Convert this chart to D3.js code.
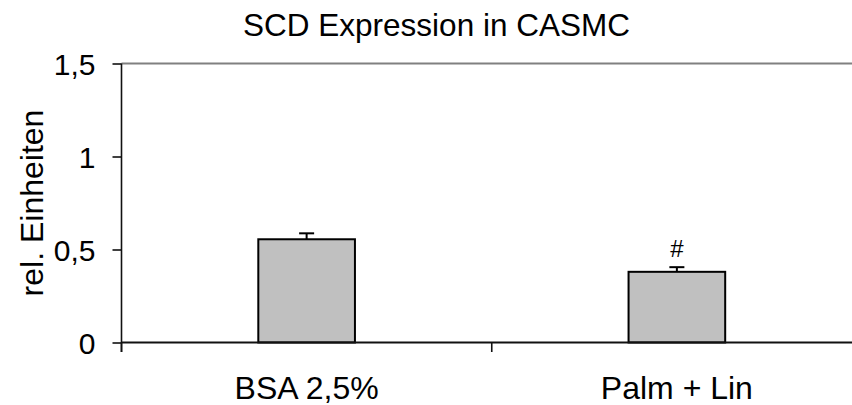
<!DOCTYPE html>
<html>
<head>
<meta charset="utf-8">
<script src="https://cdn.jsdelivr.net/npm/d3@7"></script>
<style>
  html, body { margin: 0; padding: 0; background: #fff; }
  svg { display: block; }
  text { font-family: "Liberation Sans", Arial, sans-serif; fill: #000; }
</style>
</head>
<body>
<svg id="chart" width="852" height="405"></svg>
<script>
// Data
const categories = ["BSA 2,5%", "Palm + Lin"];
const values = [0.555, 0.38];
const errors = [0.032, 0.025];
const markers = ["", "#"];
const yTicks = [0, 0.5, 1, 1.5];
const yTickLabels = ["0", "0,5", "1", "1,5"];
const chartTitle = "SCD Expression in CASMC";
const yTitle = "rel. Einheiten";

const svg = d3.select("#chart");

// Plot area (right edge runs past the visible canvas)
const plotLeft = 121.5, plotRight = 862, plotTop = 63.5, plotBottom = 342.5;

const x = d3.scaleBand().domain(categories).range([plotLeft, plotRight]).padding(0);
const y = d3.scaleLinear().domain([0, 1.5]).range([plotBottom, plotTop]);
const barW = x.bandwidth() * 0.261;

// Title
svg.append("text")
  .attr("x", 436.5).attr("y", 36)
  .attr("text-anchor", "middle")
  .style("font-size", "31.5px")
  .text(chartTitle);

// Top border of plot area
svg.append("line")
  .attr("x1", plotLeft).attr("x2", plotRight)
  .attr("y1", plotTop).attr("y2", plotTop)
  .attr("stroke", "#808080").attr("stroke-width", 2);

// Bars
const g = svg.append("g");
g.selectAll("rect.bar").data(values).join("rect")
  .attr("class", "bar")
  .attr("x", (d, i) => x(categories[i]) + x.bandwidth() / 2 - barW / 2)
  .attr("y", d => y(d))
  .attr("width", barW)
  .attr("height", d => y(0) - y(d))
  .attr("fill", "#c0c0c0")
  .attr("stroke", "#000")
  .attr("stroke-width", 2);

// Error bars (upper only)
const cx = i => x(categories[i]) + x.bandwidth() / 2;
g.selectAll("line.err").data(values).join("line")
  .attr("class", "err")
  .attr("x1", (d, i) => cx(i)).attr("x2", (d, i) => cx(i))
  .attr("y1", d => y(d)).attr("y2", (d, i) => y(d + errors[i]))
  .attr("stroke", "#000").attr("stroke-width", 2);
g.selectAll("line.cap").data(values).join("line")
  .attr("class", "cap")
  .attr("x1", (d, i) => cx(i) - 7.5).attr("x2", (d, i) => cx(i) + 7.5)
  .attr("y1", (d, i) => y(d + errors[i])).attr("y2", (d, i) => y(d + errors[i]))
  .attr("stroke", "#000").attr("stroke-width", 2);

// Significance markers
g.selectAll("text.mark").data(values).join("text")
  .attr("class", "mark")
  .attr("x", (d, i) => cx(i))
  .attr("y", (d, i) => y(d + errors[i]) - 10)
  .attr("text-anchor", "middle")
  .style("font-size", "24px")
  .text((d, i) => markers[i]);

// Y axis
const yAxis = d3.axisLeft(y)
  .tickValues(yTicks)
  .tickFormat((d, i) => yTickLabels[i])
  .tickSize(9)
  .tickPadding(17);
const ya = svg.append("g").attr("transform", `translate(${plotLeft},0)`).call(yAxis);
ya.select(".domain").attr("stroke", "#111").attr("stroke-width", 1.6)
  .attr("d", `M0,${plotTop}V${plotBottom + 9.5}`);
ya.selectAll(".tick line").attr("stroke", "#111").attr("stroke-width", 1.6);
ya.selectAll(".tick text").style("font-size", "30px").attr("dy", "0.36em");

// X axis with ticks between categories
const xa = svg.append("g").attr("transform", `translate(0,${plotBottom})`);
xa.append("line")
  .attr("x1", plotLeft).attr("x2", plotRight).attr("y1", 0).attr("y2", 0)
  .attr("stroke", "#111").attr("stroke-width", 2);
const xEdges = categories.map(c => x(c)).concat([plotRight]);
xa.selectAll("line.xt").data(xEdges).join("line")
  .attr("class", "xt")
  .attr("x1", d => d).attr("x2", d => d)
  .attr("y1", 0).attr("y2", 9.5)
  .attr("stroke", "#111").attr("stroke-width", 1.6);
xa.selectAll("text.xl").data(categories).join("text")
  .attr("class", "xl")
  .attr("x", d => x(d) + x.bandwidth() / 2)
  .attr("y", 56.5)
  .attr("text-anchor", "middle")
  .style("font-size", "32px")
  .text(d => d);

// Y axis title
svg.append("text")
  .attr("transform", `translate(43,203) rotate(-90)`)
  .attr("text-anchor", "middle")
  .style("font-size", "32px")
  .text(yTitle);
</script>
</body>
</html>
